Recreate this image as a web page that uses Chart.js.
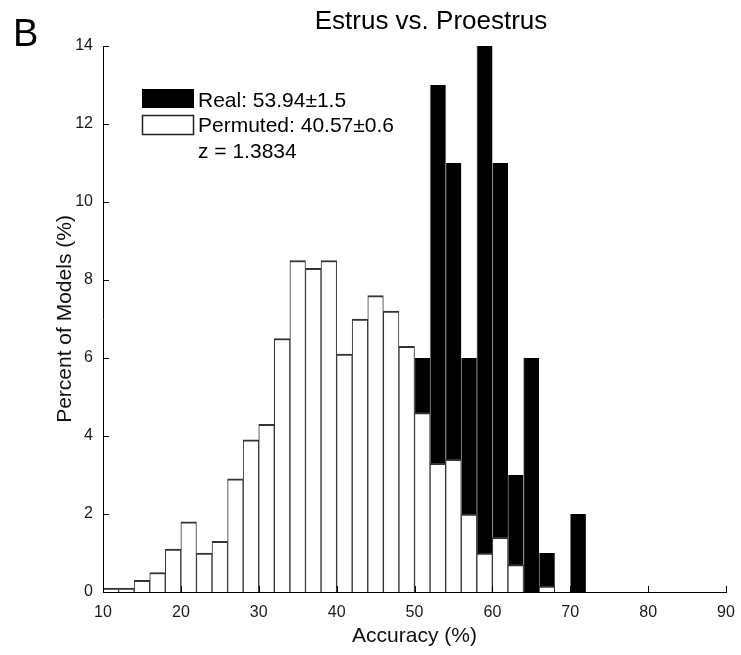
<!DOCTYPE html>
<html>
<head>
<meta charset="utf-8">
<script src="https://cdn.jsdelivr.net/npm/chart.js@4.4.1/dist/chart.umd.min.js"></script>
<style>
  html, body { margin: 0; padding: 0; background: #fff; }
  #wrap { width: 741px; height: 655px; }
</style>
</head>
<body>
<div id="wrap"><canvas id="canvas" width="741" height="655"></canvas></div>
<script>
// bin centres of the 2% accuracy bins (10..90)
const binCenters = [11, 13, 15, 17, 19, 21, 23, 25, 27, 29,
                    31, 33, 35, 37, 39, 41, 43, 45, 47, 49,
                    51, 53, 55, 57, 59, 61, 63, 65, 67, 69,
                    71, 73, 75, 77, 79, 81, 83, 85, 87, 89];

// percent of models, permuted labels (white bars, drawn in front)
const permuted = [0.1, 0.1, 0.3, 0.5, 1.1, 1.8, 1.0, 1.3, 2.9, 3.9,
                  4.3, 6.5, 8.5, 8.3, 8.5, 6.1, 7.0, 7.6, 7.2, 6.3,
                  4.6, 3.3, 3.4, 2.0, 1.0, 1.4, 0.7, 0, 0.15, 0,
                  0, 0, 0, 0, 0, 0, 0, 0, 0, 0];

// percent of models, real labels (black bars, behind the white ones)
const real = [0, 0, 0, 0, 0, 0, 0, 0, 0, 0,
              0, 0, 0, 0, 0, 0, 0, 0, 0, 0,
              6, 13, 11, 6, 14, 11, 3, 6, 1, 0,
              2, 0, 0, 0, 0, 0, 0, 0, 0, 0];

const xTicks = [10, 20, 30, 40, 50, 60, 70, 80, 90];
const yTicks = [0, 2, 4, 6, 8, 10, 12, 14];

const legendLines = ["Real: 53.94\u00b11.5", "Permuted: 40.57\u00b10.6", "z = 1.3834"];

const FONT = "Liberation Sans, Arial, Helvetica, sans-serif";

// inward tick marks, panel letter, title and the little legend box
const extras = {
    id: "extras",
    afterDatasetsDraw(chart) {
        const ctx = chart.ctx;
        const a = chart.chartArea;
        const xs = chart.scales.x, ys = chart.scales.y;
        ctx.save();
        ctx.strokeStyle = "#000";
        ctx.lineWidth = 1;
        ctx.beginPath();
        xTicks.forEach(v => {
            const px = Math.round(xs.getPixelForValue(v)) + 0.5;
            ctx.moveTo(px, a.bottom);
            ctx.lineTo(px, a.bottom - 6);
        });
        yTicks.forEach(v => {
            const py = Math.round(ys.getPixelForValue(v)) + 0.5;
            ctx.moveTo(a.left, py);
            ctx.lineTo(a.left + 6, py);
        });
        ctx.stroke();

        // panel letter
        ctx.fillStyle = "#000";
        ctx.textAlign = "left";
        ctx.textBaseline = "alphabetic";
        ctx.font = "38px " + FONT;
        ctx.fillText("B", 13, 46);

        // title
        ctx.textAlign = "center";
        ctx.font = "26px " + FONT;
        ctx.fillText("Estrus vs. Proestrus", 431, 29);

        // legend
        const lx = a.left + 39;
        ctx.fillRect(lx, 89, 52, 19);
        ctx.fillStyle = "#fff";
        ctx.fillRect(lx, 115, 52, 20);
        ctx.strokeStyle = "#222";
        ctx.lineWidth = 1.5;
        ctx.strokeRect(lx + 0.5, 115.5, 51, 19);
        ctx.fillStyle = "#000";
        ctx.textAlign = "left";
        ctx.font = "21px " + FONT;
        ctx.fillText(legendLines[0], lx + 56, 107);
        ctx.fillText(legendLines[1], lx + 56, 132);
        ctx.fillText(legendLines[2], lx + 56, 158);
        ctx.restore();
    }
};

const ctx = document.getElementById("canvas").getContext("2d");

const chart = new Chart(ctx, {
    type: "bar",
    data: {
        datasets: [
            {
                label: "Permuted",
                data: binCenters.map((x, i) => ({ x: x, y: permuted[i] })),
                backgroundColor: "#fff",
                borderColor: "#333",
                borderWidth: { top: 2, left: 1, right: 1, bottom: 0 },
                borderSkipped: false,
                order: 0,
            },
            {
                label: "Real",
                data: binCenters.map((x, i) => ({ x: x, y: real[i] })),
                backgroundColor: "#000",
                borderColor: "#888",
                borderWidth: { top: 0, left: 1, right: 0, bottom: 0 },
                borderSkipped: false,
                order: 1,
            }
        ]
    },
    options: {
        responsive: false,
        animation: false,
        events: [],
        layout: { padding: { top: 46, right: 15, left: 0, bottom: 0 } },
        datasets: {
            bar: { grouped: false, barPercentage: 1, categoryPercentage: 1 }
        },
        plugins: {
            legend: { display: false },
            title: { display: false },
            tooltip: { enabled: false }
        },
        scales: {
            x: {
                type: "linear",
                min: 10,
                max: 90,
                offset: false,
                afterBuildTicks: s => { s.ticks = xTicks.map(v => ({ value: v })); },
                afterFit: s => { s.height = 63; s.paddingLeft = 0; s.paddingRight = 0; },
                grid: { display: false, drawTicks: false },
                border: { display: true, color: "#000", width: 1 },
                ticks: { color: "#1a1a1a", padding: 11, maxRotation: 0, font: { family: FONT, size: 16 } },
                title: {
                    display: true,
                    text: "Accuracy (%)",
                    color: "#111",
                    font: { family: FONT, size: 21 },
                    padding: { top: 0, bottom: 6 }
                }
            },
            y: {
                min: 0,
                max: 14,
                afterBuildTicks: s => { s.ticks = yTicks.map(v => ({ value: v })); },
                afterFit: s => { s.width = 103; s.paddingTop = 0; s.paddingBottom = 0; },
                grid: { display: false, drawTicks: false },
                border: { display: true, color: "#000", width: 1 },
                ticks: { color: "#1a1a1a", padding: 10, font: { family: FONT, size: 16 } },
                title: {
                    display: true,
                    text: "Percent of Models (%)",
                    color: "#111",
                    font: { family: FONT, size: 21 },
                    padding: { top: 53, bottom: 0 }
                }
            }
        }
    },
    plugins: [extras]
});
</script>
</body>
</html>
